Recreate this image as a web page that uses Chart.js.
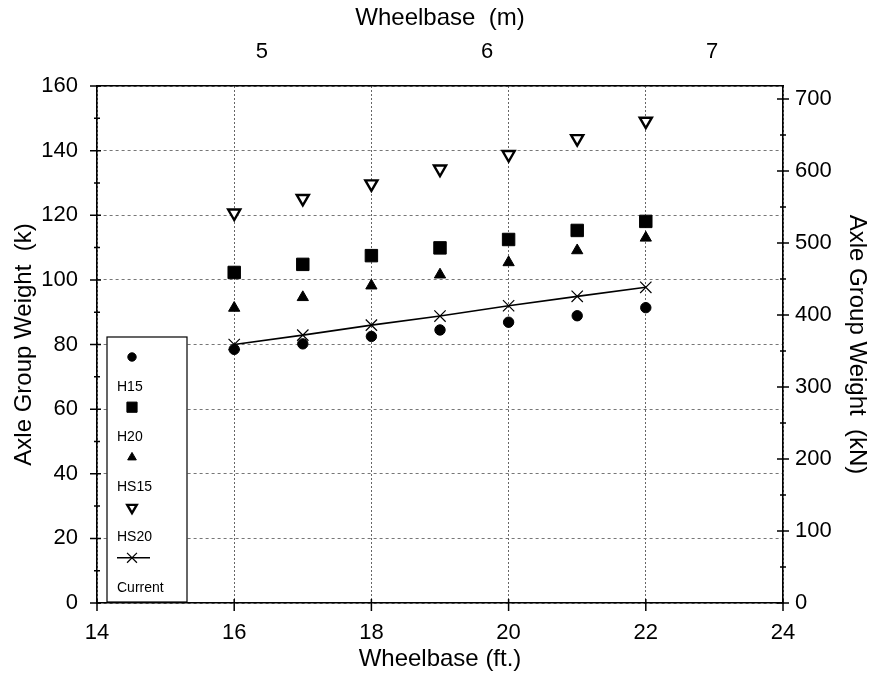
<!DOCTYPE html>
<html>
<head>
<meta charset="utf-8">
<script src="https://cdn.jsdelivr.net/npm/chart.js@4/dist/chart.umd.min.js"></script>
<style>
  html, body { margin: 0; padding: 0; background: #fff; }
  #wrap { width: 877px; height: 683px; }
</style>
</head>
<body>
<div id="wrap"><canvas id="grafico" width="877" height="683"></canvas></div>
<script>
// datos (peso en kips, distancia entre ejes en pies)
const wheelbaseFt = [16, 17, 18, 19, 20, 21, 22];
const h15 = [78.5, 80.2, 82.5, 84.5, 86.9, 88.9, 91.4];
const h20 = [102.3, 104.8, 107.5, 109.9, 112.5, 115.3, 118.1];
const hs15 = [91.3, 94.6, 98.2, 101.6, 105.4, 109.1, 113.0];
const hs20 = [120.7, 125.2, 129.7, 134.3, 138.8, 143.7, 149.1];
const current = [80.0, 82.9, 86.0, 88.8, 92.0, 94.9, 97.7];

const seriesNames = ["H15", "H20", "HS15", "HS20", "Current"];

// ejes
const ftTicks = [14, 16, 18, 20, 22, 24];
const mTicks = [5, 6, 7];
const kTicks = [0, 20, 40, 60, 80, 100, 120, 140, 160];
const kTicksMinor = [10, 30, 50, 70, 90, 110, 130, 150];
const kNTicks = [0, 100, 200, 300, 400, 500, 600, 700];
const kNTicksMinor = [50, 150, 250, 350, 450, 550, 650];
const ftMin = 14, ftMax = 24;
const kMin = 0, kMax = 160;
const kNMax = 718;      // tope del eje derecho
const ftToM = 0.3048;

const fuente = "'Liberation Sans', Arial, sans-serif";

function puntos(vals) {
    return wheelbaseFt.map((x, i) => ({ x: x, y: vals[i] }));
}

const marcasEjes = {
    id: "marcasEjes",
    afterDraw(chart) {
        const ctx = chart.ctx;
        const a = chart.chartArea;
        const sx = chart.scales.x, sy = chart.scales.y, sy2 = chart.scales.y2;
        ctx.save();
        ctx.strokeStyle = "#000";
        ctx.lineWidth = 1.5;
        ctx.beginPath();
        kTicks.forEach(v => {
            const p = sy.getPixelForValue(v);
            ctx.moveTo(a.left - 7, p); ctx.lineTo(a.left + 4, p);
        });
        kTicksMinor.forEach(v => {
            const p = sy.getPixelForValue(v);
            ctx.moveTo(a.left - 3, p); ctx.lineTo(a.left + 3, p);
        });
        kNTicks.forEach(v => {
            const p = sy2.getPixelForValue(v);
            ctx.moveTo(a.right - 6, p); ctx.lineTo(a.right + 6, p);
        });
        kNTicksMinor.forEach(v => {
            const p = sy2.getPixelForValue(v);
            ctx.moveTo(a.right - 3, p); ctx.lineTo(a.right + 3, p);
        });
        ftTicks.forEach(v => {
            const p = sx.getPixelForValue(v);
            ctx.moveTo(p, a.bottom - 4); ctx.lineTo(p, a.bottom + 8);
        });
        ctx.stroke();
        ctx.restore();
    }
};

const leyenda = {
    id: "leyenda",
    afterDraw(chart) {
        const ctx = chart.ctx;
        const a = chart.chartArea;
        const bx = a.left + 10, bw = 80;
        const by = a.bottom - 266, bh = 265;
        ctx.save();
        ctx.fillStyle = "#fff";
        ctx.fillRect(bx, by, bw, bh);
        ctx.strokeStyle = "#000";
        ctx.lineWidth = 1.2;
        ctx.strokeRect(bx, by, bw, bh);
        chart.data.datasets.forEach((ds, i) => {
            const cy = by + 20 + i * 50.2;
            const cx = bx + 25;
            if (ds.showLine) {
                ctx.strokeStyle = ds.borderColor;
                ctx.lineWidth = ds.borderWidth;
                ctx.beginPath();
                ctx.moveTo(bx + 10, cy); ctx.lineTo(bx + 43, cy);
                ctx.stroke();
            }
            ctx.fillStyle = ds.pointBackgroundColor;
            ctx.strokeStyle = ds.pointBorderColor;
            ctx.lineWidth = ds.pointBorderWidth;
            Chart.helpers.drawPoint(ctx, {
                pointStyle: ds.pointStyle,
                rotation: ds.pointRotation || 0,
                radius: ds.legendRadius,
                borderWidth: ds.pointBorderWidth
            }, cx, cy);
            ctx.fillStyle = "#000";
            ctx.font = "14px " + fuente;
            ctx.textAlign = "left";
            ctx.textBaseline = "middle";
            ctx.fillText(ds.label, bx + 10, cy + 30);
        });
        ctx.restore();
    }
};

new Chart(document.getElementById("grafico"), {
    type: "scatter",
    data: {
        datasets: [
            {
                label: seriesNames[0], data: puntos(h15),
                pointStyle: "circle", pointRadius: 5.2, legendRadius: 4.2,
                pointBackgroundColor: "#000", pointBorderColor: "#000", pointBorderWidth: 1
            },
            {
                label: seriesNames[1], data: puntos(h20),
                pointStyle: "rect", pointRadius: 8.8, legendRadius: 7.2,
                pointBackgroundColor: "#000", pointBorderColor: "#000", pointBorderWidth: 1
            },
            {
                label: seriesNames[2], data: puntos(hs15),
                pointStyle: "triangle", pointRadius: 6.5, legendRadius: 5,
                pointBackgroundColor: "#000", pointBorderColor: "#000", pointBorderWidth: 1
            },
            {
                label: seriesNames[3], data: puntos(hs20),
                pointStyle: "triangle", pointRotation: 180, pointRadius: 7, legendRadius: 5.5,
                pointBackgroundColor: "#fff", pointBorderColor: "#000", pointBorderWidth: 2.4
            },
            {
                label: seriesNames[4], data: puntos(current),
                showLine: true, borderColor: "#000", borderWidth: 1.6,
                pointStyle: "crossRot", pointRadius: 8, legendRadius: 7,
                pointBackgroundColor: "#000", pointBorderColor: "#000", pointBorderWidth: 1.2
            }
        ]
    },
    options: {
        responsive: false,
        animation: false,
        layout: { padding: 0 },
        plugins: {
            legend: { display: false },
            tooltip: { enabled: false }
        },
        scales: {
            x: {
                type: "linear", position: "bottom", min: ftMin, max: ftMax,
                afterBuildTicks: s => { s.ticks = ftTicks.map(v => ({ value: v })); },
                afterFit: s => { s.height = 80; },
                grid: { color: "#666", lineWidth: 1, drawTicks: false },
                border: { display: true, color: "#000", width: 1.6, dash: [2, 2] },
                ticks: { color: "#000", padding: 17, font: { family: fuente, size: 22 } },
                title: { display: true, text: "Wheelbase (ft.)", color: "#000", padding: { top: 0, bottom: 9 },
                         font: { family: fuente, size: 24 } }
            },
            x2: {
                type: "linear", position: "top", min: ftMin * ftToM, max: ftMax * ftToM,
                afterBuildTicks: s => { s.ticks = mTicks.map(v => ({ value: v })); },
                afterFit: s => { s.height = 86; },
                grid: { display: false, drawTicks: false },
                border: { display: true, color: "#000", width: 1.6 },
                ticks: { color: "#000", padding: 21, font: { family: fuente, size: 22 } },
                title: { display: true, text: "Wheelbase  (m)", color: "#000", padding: { top: 4, bottom: 0 },
                         font: { family: fuente, size: 24 } }
            },
            y: {
                type: "linear", position: "left", min: kMin, max: kMax,
                afterBuildTicks: s => { s.ticks = kTicks.map(v => ({ value: v })); },
                afterFit: s => { s.width = 97; },
                grid: { color: "#777", lineWidth: 1, drawTicks: false },
                border: { display: true, color: "#000", width: 1.6, dash: [3, 3] },
                ticks: { color: "#000", padding: 19, font: { family: fuente, size: 22 } },
                title: { display: true, text: "Axle Group Weight  (k)", color: "#000", padding: { top: 10, bottom: 0 },
                         font: { family: fuente, size: 24 } }
            },
            y2: {
                type: "linear", position: "right", min: 0, max: kNMax,
                afterBuildTicks: s => { s.ticks = kNTicks.map(v => ({ value: v })); },
                afterFit: s => { s.width = 94; },
                grid: { display: false, drawTicks: false },
                border: { display: true, color: "#000", width: 1.6 },
                ticks: { color: "#000", padding: 12, font: { family: fuente, size: 22 } },
                title: { display: true, text: "Axle Group Weight  (kN)", color: "#000", padding: { top: 6, bottom: 0 },
                         font: { family: fuente, size: 24 } }
            }
        }
    },
    plugins: [marcasEjes, leyenda]
});
</script>
</body>
</html>
